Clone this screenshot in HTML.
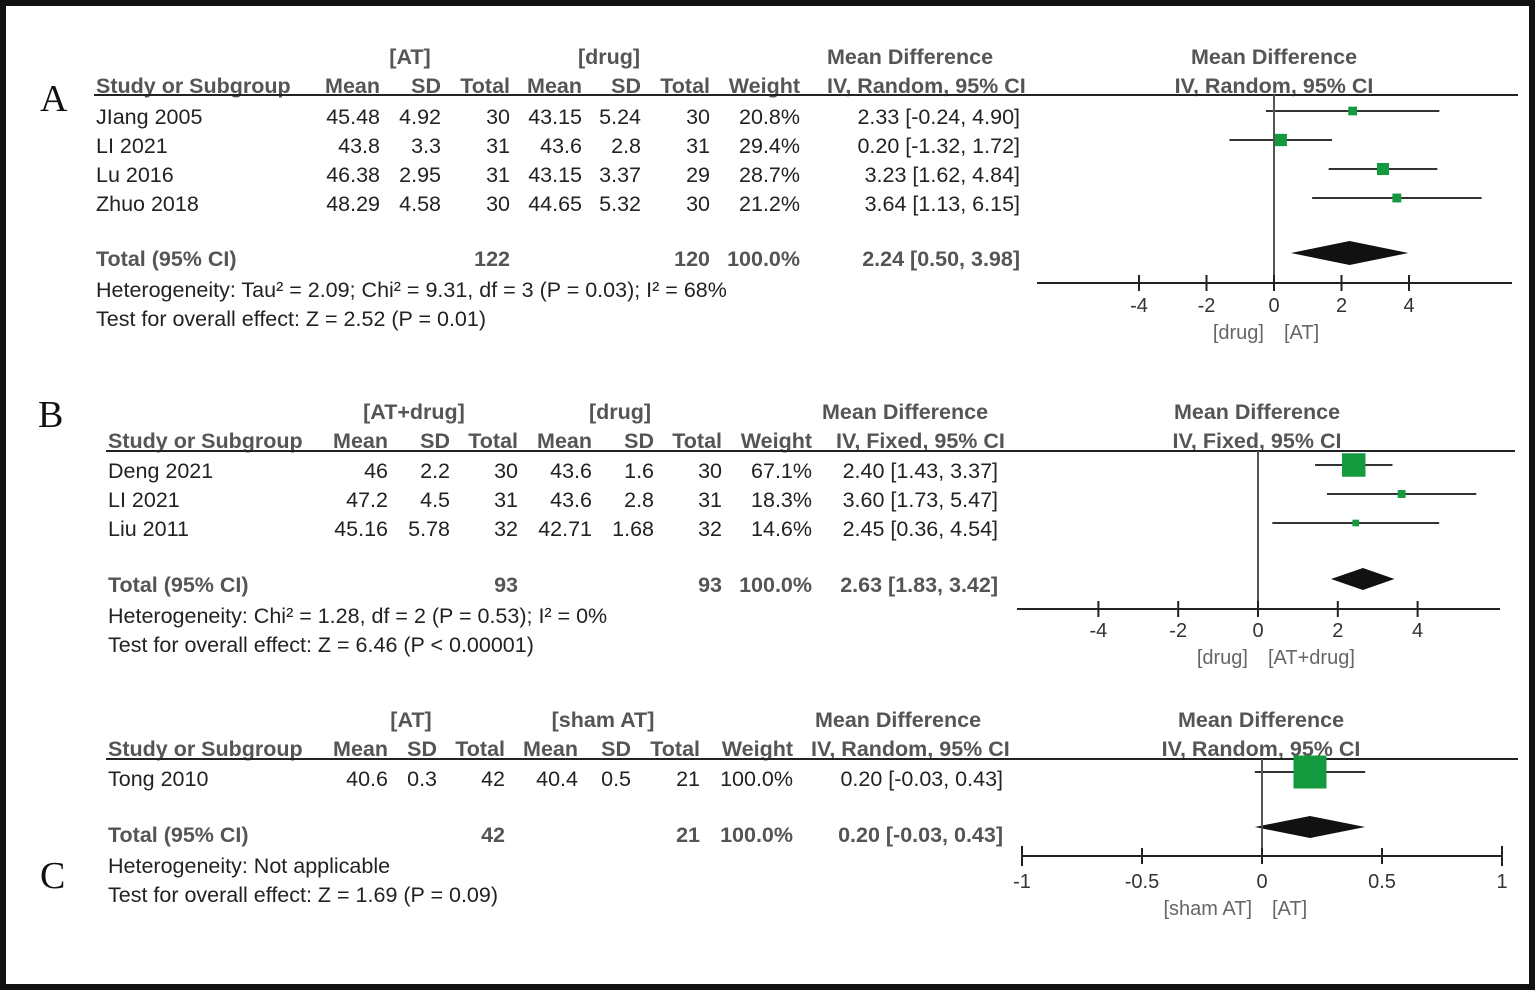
<!DOCTYPE html>
<html><head><meta charset="utf-8"><style>
html,body{margin:0;padding:0;background:#fff}
svg{display:block;font-family:"Liberation Sans",Arial,sans-serif}
.t{font-size:21.5px;fill:#222}
.h{font-size:21.5px;fill:#555;font-weight:bold}
.tk{font-size:20px;fill:#333}
.lb{font-size:20px;fill:#666}
.L{font-family:"Liberation Serif",serif;font-size:38px;fill:#111}
</style></head><body>
<svg id="fig" width="1535" height="990" viewBox="0 0 1535 990" xmlns="http://www.w3.org/2000/svg">
<rect x="3" y="3" width="1529" height="984" fill="#fff" stroke="#111" stroke-width="6"/>
<text class="L" x="40" y="111">A</text>
<text class="L" x="38" y="427">B</text>
<text class="L" x="40" y="888">C</text>
<g id="g"></g>
</svg>
<script>
// Panel A data
const aStudies=["JIang 2005","LI 2021","Lu 2016","Zhuo 2018"];
const aMeanE=["45.48","43.8","46.38","48.29"];const aSdE=["4.92","3.3","2.95","4.58"];const aNE=["30","31","31","30"];
const aMeanC=["43.15","43.6","43.15","44.65"];const aSdC=["5.24","2.8","3.37","5.32"];const aNC=["30","31","29","30"];
const aWeight=[20.8,29.4,28.7,21.2];
const aMD=[2.33,0.20,3.23,3.64];const aLo=[-0.24,-1.32,1.62,1.13];const aHi=[4.90,1.72,4.84,6.15];
const aTotal=[2.24,0.50,3.98];const aTicks=[-4,-2,0,2,4];
// Panel B data
const bStudies=["Deng 2021","LI 2021","Liu 2011"];
const bMeanE=["46","47.2","45.16"];const bSdE=["2.2","4.5","5.78"];const bNE=["30","31","32"];
const bMeanC=["43.6","43.6","42.71"];const bSdC=["1.6","2.8","1.68"];const bNC=["30","31","32"];
const bWeight=[67.1,18.3,14.6];
const bMD=[2.40,3.60,2.45];const bLo=[1.43,1.73,0.36];const bHi=[3.37,5.47,4.54];
const bTotal=[2.63,1.83,3.42];const bTicks=[-4,-2,0,2,4];
// Panel C data
const cStudies=["Tong 2010"];
const cMeanE=["40.6"];const cSdE=["0.3"];const cNE=["42"];
const cMeanC=["40.4"];const cSdC=["0.5"];const cNC=["21"];
const cWeight=[100.0];
const cMD=[0.20];const cLo=[-0.03];const cHi=[0.43];
const cTotal=[0.20,-0.03,0.43];const cTicks=[-1,-0.5,0,0.5,1];

const NS="http://www.w3.org/2000/svg";const G=document.getElementById('g');
function mk(tag,at,txt){const e=document.createElementNS(NS,tag);for(const k in at)e.setAttribute(k,at[k]);if(txt!==undefined)e.textContent=txt;G.appendChild(e);return e;}
function T(x,y,s,cls,anchor,name){const e=mk('text',{x:x,y:y,class:cls,'text-anchor':anchor||'start'},s);

return e;}
function f2(v){return v.toFixed(2);}
function panel(P){
 const c=P.cols;
 T(c.e,P.h1,P.eName,'h','middle','experimental-group-header');T(c.cg,P.h1,P.cName,'h','middle','control-group-header');
 T(P.mdC,P.h1,'Mean Difference','h','middle','md-header');T(P.pC,P.h1,'Mean Difference','h','middle','plot-md-header');
 const h2=P.h1+29;
 T(P.x0,h2,'Study or Subgroup','h','start','study-header');
 T(c.m1,h2,'Mean','h','end','mean-header');T(c.s1,h2,'SD','h','end','sd-header');T(c.n1,h2,'Total','h','end','total-header');
 T(c.m2,h2,'Mean','h','end','mean-header');T(c.s2,h2,'SD','h','end','sd-header');T(c.n2,h2,'Total','h','end','total-header');
 T(c.w,h2,'Weight','h','end','weight-header');T(P.ciL,h2,P.model,'h','start','ci-header');T(P.pC,h2,P.model,'h','middle','plot-ci-header');
 let r=mk('line',{x1:P.x0-2,x2:P.rEnd,y1:P.rule,y2:P.rule,stroke:'#222','stroke-width':2});
 
 
 const sx=v=>P.zero+v*P.k;
 P.st.forEach((s,i)=>{const y=P.rowY+i*P.dy;
  T(P.x0,y,s,'t','start','study-name');
  T(c.m1,y,P.me[i],'t','end','mean-value');T(c.s1,y,P.se[i],'t','end','sd-value');T(c.n1,y,P.ne[i],'t','end','total-value');
  T(c.m2,y,P.mc[i],'t','end','mean-value');T(c.s2,y,P.sc[i],'t','end','sd-value');T(c.n2,y,P.nc[i],'t','end','total-value');
  T(c.w,y,P.w[i].toFixed(1)+'%','t','end','weight-value');
  T(P.ciR,y,f2(P.md[i])+' ['+f2(P.lo[i])+', '+f2(P.hi[i])+']','t','end','ci-value');
  const py=y+P.mOff;
  const l=mk('line',{x1:sx(P.lo[i]),x2:sx(P.hi[i]),y1:py,y2:py,stroke:'#333','stroke-width':2});
  
  
  const sz=P.box(P.w[i]);
  const b=mk('rect',{x:sx(P.md[i])-sz/2,y:py-sz/2,width:sz,height:sz,fill:'#149a3e'});
  
  
 });
 const ty=P.totY;
 T(P.x0,ty,'Total (95% CI)','h','start','total-label');
 T(c.n1,ty,P.totE,'h','end','total-n');T(c.n2,ty,P.totC,'h','end','total-n');T(c.w,ty,'100.0%','h','end','total-weight');
 T(P.ciR,ty,f2(P.tot[0])+' ['+f2(P.tot[1])+', '+f2(P.tot[2])+']','h','end','total-ci');
 T(P.x0,ty+31,P.het,'t','start','heterogeneity-text');T(P.x0,ty+60,P.test,'t','start','overall-effect-text');
 const dy=P.dY;
 const d=mk('polygon',{points:[sx(P.tot[1])+','+dy,sx(P.tot[0])+','+(dy-P.dh),sx(P.tot[2])+','+dy,sx(P.tot[0])+','+(dy+P.dh)].join(' '),fill:'#111'});
 
 
 const v=mk('line',{x1:P.zero,x2:P.zero,y1:P.rule,y2:P.ax,stroke:'#555','stroke-width':2});
 
 
 const a=mk('line',{x1:P.axL,x2:P.axR,y1:P.ax,y2:P.ax,stroke:'#222','stroke-width':2});
 
 
 P.ticks.forEach(t=>{const tl=mk('line',{x1:sx(t),x2:sx(t),y1:P.ax-8,y2:P.ax+8,stroke:'#222','stroke-width':2});
  
  
  T(sx(t),P.ax+P.tkOff,String(t),'tk','middle','x-tick-label');});
 if(P.endTicks){[P.axL,P.axR].forEach(x=>{const e=mk('line',{x1:x,x2:x,y1:P.ax-10,y2:P.ax+10,stroke:'#222','stroke-width':2});
  
  });}
 T(P.zero-10,P.ax+P.tkOff+27,P.favL,'lb','end','favours-left-label');T(P.zero+10,P.ax+P.tkOff+27,P.favR,'lb','start','favours-right-label');
}
panel({x0:96,h1:64,rule:95,rEnd:1518,rowY:124,dy:29,mOff:-13,totY:266,
 cols:{e:410,cg:609,m1:380,s1:441,n1:510,m2:582,s2:641,n2:710,w:800},
 eName:'[AT]',cName:'[drug]',mdC:910,pC:1274,ciL:827,ciR:1020,model:'IV, Random, 95% CI',
 st:aStudies,me:aMeanE,se:aSdE,ne:aNE,mc:aMeanC,sc:aSdC,nc:aNC,w:aWeight,md:aMD,lo:aLo,hi:aHi,tot:aTotal,
 totE:'122',totC:'120',het:'Heterogeneity: Tau² = 2.09; Chi² = 9.31, df = 3 (P = 0.03); I² = 68%',
 test:'Test for overall effect: Z = 2.52 (P = 0.01)',zero:1274,k:33.75,box:w=>w*0.42,
 dY:253,dh:12,ax:283,axL:1037,axR:1512,ticks:aTicks,tkOff:29,favL:'[drug]',favR:'[AT]'});
panel({x0:108,h1:419,rule:451,rEnd:1515,rowY:478,dy:29,mOff:-13,totY:592,
 cols:{e:414,cg:620,m1:388,s1:450,n1:518,m2:592,s2:654,n2:722,w:812},
 eName:'[AT+drug]',cName:'[drug]',mdC:905,pC:1257,ciL:836,ciR:998,model:'IV, Fixed, 95% CI',
 st:bStudies,me:bMeanE,se:bSdE,ne:bNE,mc:bMeanC,sc:bSdC,nc:bNC,w:bWeight,md:bMD,lo:bLo,hi:bHi,tot:bTotal,
 totE:'93',totC:'93',het:'Heterogeneity: Chi² = 1.28, df = 2 (P = 0.53); I² = 0%',
 test:'Test for overall effect: Z = 6.46 (P < 0.00001)',zero:1258,k:39.9,box:w=>w*0.32+2,
 dY:579,dh:11,ax:609,axL:1017,axR:1500,ticks:bTicks,tkOff:28,favL:'[drug]',favR:'[AT+drug]'});
panel({x0:108,h1:727,rule:759,rEnd:1518,rowY:786,dy:29,mOff:-14,totY:842,
 cols:{e:411,cg:603,m1:388,s1:437,n1:505,m2:578,s2:631,n2:700,w:793},
 eName:'[AT]',cName:'[sham AT]',mdC:898,pC:1261,ciL:811,ciR:1003,model:'IV, Random, 95% CI',
 st:cStudies,me:cMeanE,se:cSdE,ne:cNE,mc:cMeanC,sc:cSdC,nc:cNC,w:cWeight,md:cMD,lo:cLo,hi:cHi,tot:cTotal,
 totE:'42',totC:'21',het:'Heterogeneity: Not applicable',
 test:'Test for overall effect: Z = 1.69 (P = 0.09)',zero:1262,k:240,box:w=>w*0.33,
 dY:827,dh:11,ax:856,axL:1022,axR:1502,ticks:cTicks,tkOff:32,endTicks:true,favL:'[sham AT]',favR:'[AT]'});
</script>
</body></html>
